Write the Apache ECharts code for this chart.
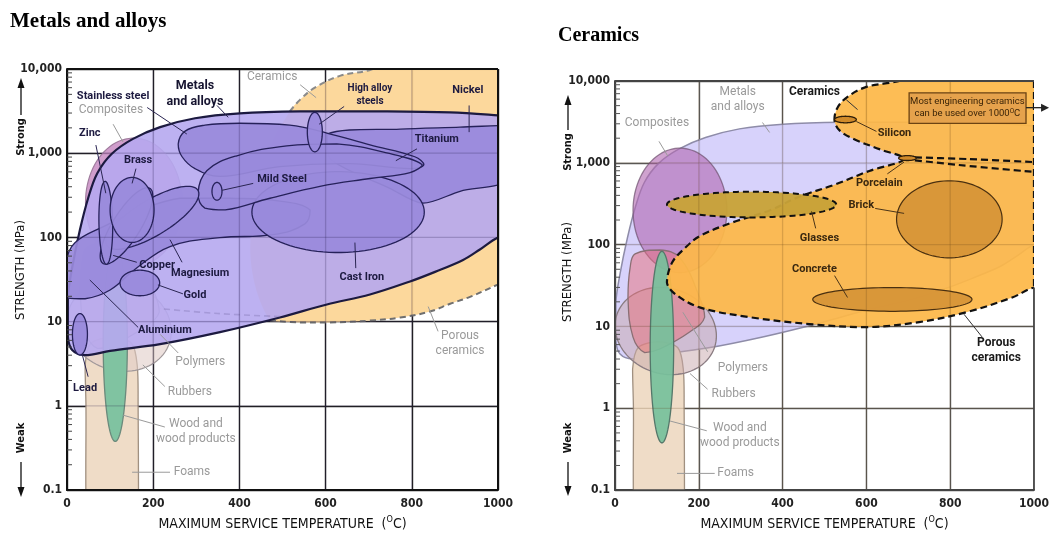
<!DOCTYPE html>
<html lang="en">
<head>
<meta charset="utf-8">
<title>Maximum service temperature vs strength</title>
<script src="https://cdn.jsdelivr.net/npm/echarts@6/dist/echarts.min.js"></script>
<style>
  html, body { margin: 0; padding: 0; background: #fff; width: 100%; height: 100%; overflow: hidden; }
  #chart { position: absolute; left: 0; top: 0; width: 1052px; height: 538px; }
</style>
</head>
<body>
<div id="chart"></div>
<script>
// ---- Axes ---------------------------------------------------------------
const temperatureTicks = [0, 200, 400, 600, 800, 1000];   // °C
const strengthTicks = [0.1, 1, 10, 100, 1000, 10000];     // MPa
const minorTickSteps = [2, 3, 4, 5, 6, 7, 8, 9];

// ---- Material fields: outlines as [temperature °C, strength MPa] ---------
const metalsEnvelope = [[2,19.7],[12,44],[30,123],[49,292],[70,575],[104,985],[153,1480],[216,2040],
  [297,2600],[401,2970],[541,3140],[726,3140],[889,3050],[1000,2820],[1040,2700],[1040,110],[1000,100],
  [958,72],[919,54],[854,39],[796,30],[703,21],[603,16],[494,11.2],[355,7.5],[216,5.4],[100,4.5],
  [42,4.0],[12,4.6],[2,6.7]];
const polymersField = [[48,77],[107,86],[155,69],[202,22.6],[214,13],[179,8.6],[107,5.3],[71,4.8],
  [43,7.4],[31,22.6],[36,52]];
const foamsField = [[45,0.05],[44,1],[42,3],[55,5.5],[105,6.5],[150,5.5],[163,3],[165,1],[166,0.05]];

// Ellipses: [centre °C, centre MPa, half-width °C, tilt (decades), half-height (decades)]
const compositesEll = [155, 262, 112, 0, 0.761];
const rubbersEll = [121, 8.8, 121, -0.06, 0.53];
const woodEll = [112, 5.6, 28, 0, 1.17];

// Metals and alloys (sub-fields)
const ceramicsBehindMetals = [[517,3140],[541,4330],[575,6000],[633,8280],[703,9730],[740,12000],
  [1040,12000],[1040,27.3],[998,27.3],[935,19.7],[889,16.3],[842,13.2],[773,11.2],[703,10.3],
  [610,9.78],[541,9.78],[471,10.3],[425,76],[471,1120]];
const ceramicsEdgeUpper = [[517,3140],[541,4330],[575,6000],[633,8280],[703,9730],[740,12000]];
const porousEdgeLower = [[471,10.3],[541,9.78],[610,9.78],[703,10.3],[773,11.2],[842,13.2],
  [889,16.3],[935,19.7],[998,27.3],[1010,29]];
const porousEdgeHidden = [[494,11.5],[350,12.5],[216,14.3]];
const aluminiumField = [[-7,19.7],[42,18.7],[100,23.8],[158,42],[239,78],[355,99.5],[478,108],
  [552,145],[564,212],[494,270],[378,292],[262,292],[169,212],[88,137],[19,87],[-2,51]];
const nickelField = [[603,1687],[773,1932],[912,2037],[1028,2152],[1028,501],[912,353],[826,255],
  [749,383],[610,859]];
const stainlessField = [[258,1288],[274,1828],[320,2152],[401,2270],[517,2152],[603,1734],[703,1254],
  [807,908],[828,731],[796,656],[657,752],[494,693],[355,530],[297,656],[267,908]];
const titaniumField = [[304,335],[325,622],[394,933],[510,1222],[626,1288],[742,1011],[824,731],
  [796,589],[703,501],[587,404],[471,292],[367,212],[320,223]];
const castIronEll = [629, 200, 200, 0, 0.48];
const magnesiumEll = [198, 171, 108, 0.285, 0.242];
const copperEll = [138, 137, 61, 0.358, 0.279];
const zincEll = [90, 149, 16, -0.05, 0.49];
const brassEll = [151, 212, 51, 0, 0.386];
const goldEll = [169, 28.8, 46, 0, 0.152];
const highAlloyEll = [575, 1782, 17.4, 0, 0.234];
const mildSteelEll = [348, 353, 11.6, 0, 0.105];
const leadEll = [30, 7.08, 17.4, 0, 0.246];

// Ceramics (sub-fields)
const ceramicsField = [[524,3290],[531,4720],[555,6410],[600,8470],[667,9720],[750,12000],[1040,12000],
  [1040,29.9],[1000,29.9],[948,22.6],[838,14.9],[726,11.3],[600,9.8],[464,10.7],[321,13],[202,17.1],
  [145,24.6],[124,34.4],[136,60],[167,91],[202,127],[274,182],[369,262],[440,386],[524,540],[607,796],
  [690,1110],[631,1470],[571,1940],[536,2490]];
const ceramicsSplitUpper = [[690,1175],[845,1110],[1000,1020]];
const ceramicsSplitLower = [[690,1110],[821,940],[1000,774]];
const ceramicsEdgeRight = [[1000,10000],[1000,29.9]];
const glassesEll = [326, 309, 202, 0, 0.157];
const siliconEll = [550, 3380, 26, 0, 0.04];
const porcelainEll = [698, 1143, 21, 0, 0.03];
const brickEll = [798, 204, 126, 0, 0.471];
const concreteEll = [662, 21.4, 190, 0, 0.145];

// ---- Look ------------------------------------------------------------------
const FONT = "'DejaVu Sans Condensed','DejaVu Sans',sans-serif";   // axes
const NOTE_FONT = "Roboto,'Noto Sans',sans-serif";                 // in-plot labels
const GRIDS = [
  { left: 67, top: 69, width: 431, height: 427 },
  { left: 615, top: 81, width: 420, height: 414 }
];
const STYLES = {
  ceramicsBack: { fill: 'rgba(252,213,148,0.92)' },
  ceramicsDashL: { stroke: '#8a8a8a', lw: 2, dash: [6, 4] },
  porousDashL: { stroke: '#6f6f6f', lw: 2, dash: [6, 4] },
  hiddenDash: { stroke: 'rgba(120,110,170,0.35)', lw: 1.6, dash: [6, 4] },
  compositesL: { fill: 'rgba(200,140,195,0.85)', stroke: '#a07d9e', lw: 1.2 },
  foams: { fill: '#efdcc7', stroke: '#a09080', lw: 1.3 },
  rubbersL: { fill: 'rgba(225,205,200,0.6)', stroke: '#a0989a', lw: 1.2 },
  polymersL: { fill: 'rgba(228,170,170,0.4)', stroke: '#a09094', lw: 1.2 },
  woodL: { fill: '#80c3a1', stroke: '#6b8a7c', lw: 1.3 },
  metalsL: { fill: 'rgba(182,168,240,0.9)', stroke: '#1c1a40', lw: 2.2 },
  metalInner: { fill: 'rgba(153,138,219,0.93)', stroke: '#26215a', lw: 1.3 },
  metalsR: { fill: 'rgba(208,202,250,0.85)', stroke: '#8e8ca8', lw: 1.5 },
  compositesR: { fill: 'rgba(178,105,178,0.62)', stroke: 'rgba(110,80,110,0.7)', lw: 1.3 },
  rubbersR: { fill: 'rgba(200,168,172,0.5)', stroke: '#8a7c82', lw: 1.3 },
  polymersR: { fill: 'rgba(232,110,120,0.5)', stroke: '#8a6f74', lw: 1.3 },
  woodR: { fill: 'rgba(118,192,155,0.92)', stroke: '#55776a', lw: 1.3 },
  ceramics: { fill: 'rgba(253,184,72,0.93)', stroke: '#111', lw: 2.2, dash: [7, 4] },
  ceramicsDash: { stroke: '#111', lw: 2.2, dash: [7, 4] },
  glasses: { fill: 'rgba(200,162,56,0.96)', stroke: '#111', lw: 2, dash: [6, 4] },
  brick: { fill: 'rgba(214,148,55,0.92)', stroke: '#4a3010', lw: 1.2 },
  smallCer: { fill: '#d08a2a', stroke: '#2c1c08', lw: 1.3 }
};
const TONES = {
  dark: { color: '#1d1a40', size: 11, weight: 'bold', line: '#2a2552' },
  darkBig: { color: '#161430', size: 12.5, weight: 'bold', line: '#2a2552' },
  darkSmall: { color: '#1d1a40', size: 10, weight: 'bold', line: '#2a2552' },
  grey: { color: '#9a9a9a', size: 12, weight: 'normal', line: '#9a9a9a' },
  brown: { color: '#3a2810', size: 11, weight: 'bold', line: '#4a3418' },
  black: { color: '#1a1a1a', size: 12, weight: 'bold', line: '#333' },
  box: { color: '#3a2408', size: 9.5, weight: 'normal', line: '#2a1a08' }
};

// ---- Layers ------------------------------------------------------------------
const leftLayers = [
  { points: ceramicsBehindMetals, style: 'ceramicsBack', smooth: 0.35 },
  { ellipse: compositesEll, style: 'compositesL' },
  { points: foamsField, style: 'foams', smooth: 0.3 },
  { ellipse: rubbersEll, style: 'rubbersL' },
  { points: polymersField, style: 'polymersL', smooth: 0.4 },
  { ellipse: woodEll, style: 'woodL' },
  { points: ceramicsEdgeUpper, style: 'ceramicsDashL', open: true, smooth: 0.4 },
  { points: porousEdgeLower, style: 'porousDashL', open: true, smooth: 0.4 },
  { points: metalsEnvelope, style: 'metalsL', smooth: 0.35 },
  { points: porousEdgeHidden, style: 'hiddenDash', open: true, smooth: 0.4 },
  { points: aluminiumField, style: 'metalInner', smooth: 0.4 },
  { points: nickelField, style: 'metalInner', smooth: 0.3 },
  { ellipse: castIronEll, style: 'metalInner' },
  { points: stainlessField, style: 'metalInner', smooth: 0.4 },
  { points: titaniumField, style: 'metalInner', smooth: 0.4 },
  { ellipse: magnesiumEll, style: 'metalInner' },
  { ellipse: copperEll, style: 'metalInner' },
  { ellipse: zincEll, style: 'metalInner' },
  { ellipse: brassEll, style: 'metalInner' },
  { ellipse: goldEll, style: 'metalInner' },
  { ellipse: highAlloyEll, style: 'metalInner' },
  { ellipse: mildSteelEll, style: 'metalInner' },
  { ellipse: leadEll, style: 'metalInner' }
];
const rightLayers = [
  { points: metalsEnvelope, style: 'metalsR', smooth: 0.35 },
  { ellipse: compositesEll, style: 'compositesR' },
  { points: foamsField, style: 'foams', smooth: 0.3 },
  { ellipse: rubbersEll, style: 'rubbersR' },
  { points: polymersField, style: 'polymersR', smooth: 0.4 },
  { ellipse: woodEll, style: 'woodR' },
  { points: ceramicsField, style: 'ceramics', smooth: 0.35 },
  { points: ceramicsSplitUpper, style: 'ceramicsDash', open: true, smooth: 0.3 },
  { points: ceramicsSplitLower, style: 'ceramicsDash', open: true, smooth: 0.3 },
  { points: ceramicsEdgeRight, style: 'ceramicsDash', open: true },
  { ellipse: glassesEll, style: 'glasses' },
  { ellipse: brickEll, style: 'brick' },
  { ellipse: concreteEll, style: 'brick' },
  { ellipse: siliconEll, style: 'smallCer' },
  { ellipse: porcelainEll, style: 'smallCer' }
];

// ---- Labels with leader lines (anchored in data space) ----------------------
const leftNotes = [
  { text: 'Stainless steel', at: [107, 4700], lead: [[186, 3490], [278, 1690]], tone: 'dark' },
  { text: 'Composites', at: [102, 3220], lead: [[107, 2210], [130, 1360]], tone: 'grey' },
  { text: 'Metals\nand alloys', at: [297, 5090], lead: [[348, 3690], [374, 2670]], tone: 'darkBig' },
  { text: 'Ceramics', at: [476, 8050], lead: [[541, 6500], [578, 4570]], tone: 'grey' },
  { text: 'High alloy\nsteels', at: [703, 4970], lead: [[643, 3590], [585, 2210]], tone: 'darkSmall' },
  { text: 'Nickel', at: [930, 5670], lead: [[933, 3690], [933, 1780]], tone: 'dark' },
  { text: 'Titanium', at: [858, 1476], lead: [[812, 1127], [763, 815]], tone: 'dark' },
  { text: 'Zinc', at: [53, 1730], lead: [[67, 1250], [90, 335]], tone: 'dark' },
  { text: 'Brass', at: [165, 815], lead: [[160, 656], [151, 438]], tone: 'dark' },
  { text: 'Mild Steel', at: [499, 489], lead: [[432, 438], [360, 363]], tone: 'dark' },
  { text: 'Copper', at: [209, 46.8], lead: [[162, 50.7], [107, 61.2]], tone: 'dark' },
  { text: 'Magnesium', at: [309, 37.7], lead: [[267, 50.7], [239, 94]], tone: 'dark' },
  { text: 'Gold', at: [297, 20.8], lead: [[269, 21.4], [211, 27.3]], tone: 'dark' },
  { text: 'Cast Iron', at: [684, 33.8], lead: [[670, 43.2], [668, 86.9]], tone: 'dark' },
  { text: 'Aluminium', at: [227, 7.9], lead: [[165, 8.55], [53, 31.2]], tone: 'dark' },
  { text: 'Polymers', at: [309, 3.33], lead: [[258, 4.25], [216, 7.08]], tone: 'grey' },
  { text: 'Rubbers', at: [285, 1.48], lead: [[227, 1.7], [176, 3.07]], tone: 'grey' },
  { text: 'Lead', at: [42, 1.61], lead: [[49, 2.22], [35, 4.13]], tone: 'dark' },
  { text: 'Wood and\nwood products', at: [299, 0.491], lead: [[227, 0.561], [130, 0.776]], tone: 'grey' },
  { text: 'Foams', at: [290, 0.163], lead: [[239, 0.163], [151, 0.163]], tone: 'grey' },
  { text: 'Porous\nceramics', at: [912, 5.56], lead: [[861, 7.67], [838, 15.1]], tone: 'grey' }
];
const rightNotes = [
  { text: 'Metals\nand alloys', at: [293, 5900], lead: [[352, 3110], [369, 2350]], tone: 'grey' },
  { text: 'Ceramics', at: [476, 7360], lead: [[552, 5900], [579, 4470]], tone: 'black' },
  { text: 'Composites', at: [100, 3030], lead: [[105, 1830], [126, 1210]], tone: 'grey' },
  { text: 'Silicon', at: [667, 2290], lead: [[624, 2420], [576, 3200]], tone: 'brown' },
  { text: 'Porcelain', at: [631, 570], lead: [[650, 733], [690, 1023]], tone: 'brown' },
  { text: 'Brick', at: [588, 300], lead: [[621, 277], [690, 241]], tone: 'brown' },
  { text: 'Glasses', at: [488, 120], lead: [[479, 158], [469, 255]], tone: 'brown' },
  { text: 'Concrete', at: [476, 50.7], lead: [[524, 41.8], [555, 22.6]], tone: 'brown' },
  { text: 'Porous\nceramics', at: [910, 5.05], lead: [[876, 7.45], [833, 14.1]], tone: 'black' },
  { text: 'Polymers', at: [305, 3.15], lead: [[221, 4.91], [162, 14.9]], tone: 'grey' },
  { text: 'Rubbers', at: [283, 1.48], lead: [[221, 1.71], [179, 2.66]], tone: 'grey' },
  { text: 'Wood and\nwood products', at: [298, 0.461], lead: [[219, 0.531], [131, 0.70]], tone: 'grey' },
  { text: 'Foams', at: [288, 0.160], lead: [[238, 0.160], [148, 0.160]], tone: 'grey' },
  { text: 'Most engineering ceramics\ncan be used over 1000{sup|O}C', at: [841, 4720],
    box: [[702, 3030], [981, 7170]], arrow: [[981, 4720], [1036, 4720]], tone: 'box' }
];

// Plot frames, drawn in data space
const leftFrame = [[[0, 0.1], [0, 10000]], [[0, 10000], [1000, 10000]], [[1000, 10000], [1000, 0.1]], [[0, 0.1], [1000, 0.1]]];
const rightFrame = [[[0, 0.1], [0, 10000]], [[0, 10000], [1000, 10000]], [[1000, 29.9], [1000, 0.1]], [[0, 0.1], [1000, 0.1]]];

// ---- Helpers ---------------------------------------------------------------------
function ellipseOutline(e) {
  const [t, s, dT, tilt, dDec] = e;
  const l0 = Math.log10(s);
  const out = [];
  for (let i = 0; i < 90; i++) {
    const a = (i / 90) * Math.PI * 2;
    out.push([t + dT * Math.cos(a), Math.pow(10, l0 + tilt * Math.cos(a) + dDec * Math.sin(a))]);
  }
  return out;
}
const NO_CONSTRAINT = [[Infinity, Infinity], [-Infinity, -Infinity]];

function shapeSeries(idx, layers, z) {
  return {
    type: 'custom', xAxisIndex: idx, yAxisIndex: idx, z, clip: true, silent: true,
    data: layers.map(() => [500, 1]),
    renderItem(params, api) {
      const L = layers[params.dataIndex];
      const st = STYLES[L.style];
      const raw = L.ellipse ? ellipseOutline(L.ellipse) : L.points;
      const pts = raw.map(p => api.coord(p));
      return {
        type: L.open ? 'polyline' : 'polygon',
        shape: { points: pts, smooth: L.smooth || 0, smoothConstraint: NO_CONSTRAINT },
        style: {
          fill: L.open ? 'none' : (st.fill || 'none'),
          stroke: st.stroke || 'none',
          lineWidth: st.lw || 1,
          lineDash: st.dash || null
        }
      };
    }
  };
}

function segmentSeries(idx, segs, style, z) {
  return {
    type: 'custom', xAxisIndex: idx, yAxisIndex: idx, z, clip: false, silent: true,
    data: segs.map(() => [500, 1]),
    renderItem(params, api) {
      const [a, b] = segs[params.dataIndex].map(p => api.coord(p));
      return { type: 'line', shape: { x1: a[0], y1: a[1], x2: b[0], y2: b[1] }, style };
    }
  };
}

// faint copy of the grid drawn over the shaded fields
function overlayGridSeries(idx, color, z) {
  const lines = [];
  temperatureTicks.slice(1, -1).forEach(t => lines.push([[t, 0.1], [t, 10000]]));
  strengthTicks.slice(1, -1).forEach(s => lines.push([[0, s], [1000, s]]));
  return segmentSeries(idx, lines, { stroke: color, lineWidth: 1.3 }, z);
}

function minorTickSeries(idx, color, z) {
  const vals = [];
  strengthTicks.slice(0, -1).forEach(d => minorTickSteps.forEach(m => vals.push(m * d)));
  return {
    type: 'custom', xAxisIndex: idx, yAxisIndex: idx, z, clip: false, silent: true,
    data: vals.map(v => [0, v]),
    renderItem(params, api) {
      const p = api.coord([0, vals[params.dataIndex]]);
      return { type: 'line', shape: { x1: p[0], y1: p[1], x2: p[0] + 5, y2: p[1] }, style: { stroke: color, lineWidth: 1 } };
    }
  };
}

function noteSeries(idx, notes, z) {
  return {
    type: 'custom', xAxisIndex: idx, yAxisIndex: idx, z, clip: false, silent: true,
    data: notes.map(() => [500, 1]),
    renderItem(params, api) {
      const n = notes[params.dataIndex];
      const tone = TONES[n.tone];
      const kids = [];
      if (n.box) {
        const p = api.coord(n.box[0]), q = api.coord(n.box[1]);
        kids.push({ type: 'rect',
          shape: { x: Math.min(p[0], q[0]), y: Math.min(p[1], q[1]), width: Math.abs(q[0] - p[0]), height: Math.abs(q[1] - p[1]) },
          style: { fill: '#e5a24c', stroke: '#6b4313', lineWidth: 1.3 } });
      }
      if (n.arrow) {
        const a = api.coord(n.arrow[0]), b = api.coord(n.arrow[1]);
        kids.push({ type: 'line', shape: { x1: a[0], y1: a[1], x2: b[0] - 6, y2: b[1] }, style: { stroke: '#222', lineWidth: 1.3 } });
        kids.push({ type: 'polygon', shape: { points: [[b[0], b[1]], [b[0] - 8, b[1] - 4], [b[0] - 8, b[1] + 4]] }, style: { fill: '#222' } });
      }
      if (n.lead) {
        const a = api.coord(n.lead[0]), b = api.coord(n.lead[1]);
        kids.push({ type: 'line', shape: { x1: a[0], y1: a[1], x2: b[0], y2: b[1] }, style: { stroke: tone.line, lineWidth: 1 } });
      }
      const c = api.coord(n.at);
      kids.push({ type: 'text', x: c[0], y: c[1], style: {
        text: n.text, fill: tone.color, fontSize: tone.size, fontWeight: tone.weight, fontFamily: NOTE_FONT,
        align: 'center', verticalAlign: 'middle', lineHeight: tone.size + 3,
        rich: { sup: { fontSize: 6.5, fontFamily: NOTE_FONT, fill: tone.color, verticalAlign: 'top', lineHeight: tone.size + 3 } }
      } });
      return { type: 'group', children: kids };
    }
  };
}

function yLabelText(v) {
  return v < 1 ? String(+v.toPrecision(1)) : Math.round(v).toLocaleString('en-US');
}

function xAxisFor(idx, lineColor, splitColor) {
  return {
    gridIndex: idx, type: 'value', min: 0, max: 1000, interval: 200,
    axisLine: { show: true, lineStyle: { color: lineColor, width: 2 } },
    axisTick: { show: false },
    axisLabel: { fontFamily: FONT, fontSize: 12, fontWeight: 'bold', color: '#222', margin: 8, formatter: v => String(v) },
    splitLine: { show: true, showMaxLine: idx === 0, lineStyle: { color: splitColor, width: 1.4 } },
    name: 'MAXIMUM SERVICE TEMPERATURE  ({sup|O}C)', nameLocation: 'middle', nameGap: 23,
    nameTextStyle: { fontFamily: FONT, fontSize: 14, color: '#111', lineHeight: 18,
      rich: { sup: { fontSize: 9, fontFamily: FONT, color: '#111', verticalAlign: 'top', lineHeight: 18 } } }
  };
}
function yAxisFor(idx, lineColor, splitColor) {
  return {
    gridIndex: idx, type: 'log', logBase: 10, min: 0.1, max: 10000, splitNumber: 5,
    axisLine: { show: true, lineStyle: { color: lineColor, width: 2 } },
    axisTick: { show: false },
    axisLabel: { fontFamily: FONT, fontSize: 12, fontWeight: 'bold', color: '#222', margin: 5, formatter: yLabelText },
    splitLine: { show: true, lineStyle: { color: splitColor, width: 1.4 } }
  };
}

// Side captions: axis title plus Strong / Weak arrows
function sideCaptions(x, midY, strongY, strongTip, weakY, weakTip) {
  const f = (size, weight) => ({ fontFamily: FONT, fontSize: size, fontWeight: weight, fill: '#111', align: 'center', verticalAlign: 'middle' });
  return [
    { type: 'text', x, y: midY, rotation: Math.PI / 2, style: Object.assign({ text: 'STRENGTH (MPa)' }, f(13, 'normal')), z: 10 },
    { type: 'text', x, y: strongY, rotation: Math.PI / 2, style: Object.assign({ text: 'Strong' }, f(11, 'bold')), z: 10 },
    { type: 'line', shape: { x1: x, y1: strongY - 22, x2: x, y2: strongTip + 8 }, style: { stroke: '#111', lineWidth: 1.3 }, z: 10 },
    { type: 'polygon', shape: { points: [[x, strongTip], [x - 3.5, strongTip + 10], [x + 3.5, strongTip + 10]] }, style: { fill: '#111' }, z: 10 },
    { type: 'text', x, y: weakY, rotation: Math.PI / 2, style: Object.assign({ text: 'Weak' }, f(11, 'bold')), z: 10 },
    { type: 'line', shape: { x1: x, y1: weakY + 24, x2: x, y2: weakTip - 8 }, style: { stroke: '#111', lineWidth: 1.3 }, z: 10 },
    { type: 'polygon', shape: { points: [[x, weakTip], [x - 3.5, weakTip - 10], [x + 3.5, weakTip - 10]] }, style: { fill: '#111' }, z: 10 }
  ];
}

const chart = echarts.init(document.getElementById('chart'), null, { renderer: 'canvas', width: 1052, height: 538 });
chart.setOption({
  animation: false,
  backgroundColor: '#fff',
  title: [
    { text: 'Metals and alloys', left: 10, top: 11, padding: 0,
      textStyle: { fontFamily: "'Liberation Serif','Times New Roman',serif", fontWeight: 'bold', fontSize: 21, color: '#000' } },
    { text: 'Ceramics', left: 558, top: 26, padding: 0,
      textStyle: { fontFamily: "'Liberation Serif','Times New Roman',serif", fontWeight: 'bold', fontSize: 20, color: '#000' } }
  ],
  grid: GRIDS.map(g => Object.assign({ containLabel: false }, g)),
  xAxis: [xAxisFor(0, '#111', '#222'), xAxisFor(1, '#444', '#5a5a5a')],
  yAxis: [yAxisFor(0, '#111', '#222'), yAxisFor(1, '#444', '#5a5a5a')],
  graphic: [
    ...sideCaptions(21, 270, 137, 78, 438, 497),
    ...sideCaptions(568, 272, 152, 95, 438, 496)
  ],
  series: [
    shapeSeries(0, leftLayers, 2),
    overlayGridSeries(0, 'rgba(30,20,70,0.22)', 3),
    noteSeries(0, leftNotes, 5),
    segmentSeries(0, leftFrame, { stroke: '#111', lineWidth: 2 }, 6),
    minorTickSeries(0, '#444', 6),

    shapeSeries(1, rightLayers, 2),
    overlayGridSeries(1, 'rgba(90,60,20,0.2)', 3),
    noteSeries(1, rightNotes, 5),
    segmentSeries(1, rightFrame, { stroke: '#444', lineWidth: 1.8 }, 6),
    minorTickSeries(1, '#555', 6)
  ]
});
</script>
</body>
</html>
